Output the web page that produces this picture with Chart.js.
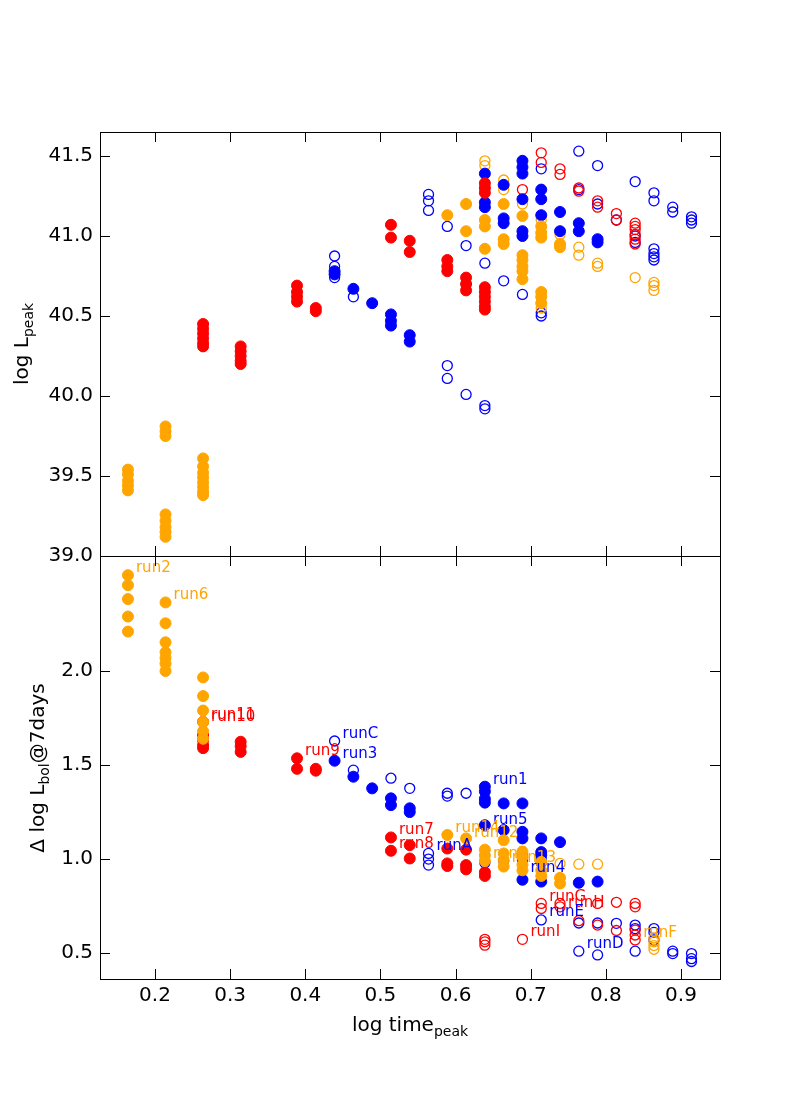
<!DOCTYPE html>
<html>
<head>
<meta charset="utf-8">
<script src="https://cdn.jsdelivr.net/npm/chart.js@4.4.1/dist/chart.umd.min.js"></script>
<style>
  body { margin: 0; background: #fff; }
  #wrap { position: relative; width: 800px; height: 1100px; }
  canvas { position: absolute; left: 0; top: 0; }
</style>
</head>
<body>
<div id="wrap">
  <canvas id="peakChart" width="800" height="1100"></canvas>
  <canvas id="dropChart" width="800" height="1100"></canvas>
</div>
<script>
const ORANGE = '#ffa500';
const RED = '#ff0000';
const BLUE = '#0000ff';
const FONT = "'DejaVu Sans', sans-serif";

// shared x axis
const xTicks = [0.2, 0.3, 0.4, 0.5, 0.6, 0.7, 0.8, 0.9];
const peakTicks = [39.0, 39.5, 40.0, 40.5, 41.0, 41.5];
const dropTicks = [0.5, 1.0, 1.5, 2.0];

// top panel: log L_peak  [log time_peak, value]
const peakOrangeFilled = [
  [0.164, 39.54], [0.164, 39.51], [0.164, 39.47], [0.164, 39.44], [0.164, 39.41],
  [0.214, 39.81], [0.214, 39.78], [0.214, 39.75], [0.214, 39.26], [0.214, 39.22],
  [0.214, 39.18], [0.214, 39.15], [0.214, 39.12],
  [0.264, 39.61], [0.264, 39.56], [0.264, 39.52], [0.264, 39.49], [0.264, 39.46],
  [0.264, 39.43], [0.264, 39.40], [0.264, 39.38],
  [0.589, 41.13], [0.614, 41.20], [0.614, 41.03],
  [0.639, 41.10], [0.639, 41.06], [0.639, 40.92],
  [0.664, 41.20], [0.664, 40.98], [0.664, 40.95],
  [0.689, 41.125], [0.689, 40.88], [0.689, 40.85], [0.689, 40.81], [0.689, 40.78], [0.689, 40.73],
  [0.714, 41.06], [0.714, 41.02], [0.714, 40.99], [0.714, 40.65], [0.714, 40.62], [0.714, 40.58],
  [0.739, 40.95], [0.739, 40.93]
];
const peakRedFilled = [
  [0.264, 40.45], [0.264, 40.42], [0.264, 40.39], [0.264, 40.36], [0.264, 40.33], [0.264, 40.31],
  [0.314, 40.31], [0.314, 40.28], [0.314, 40.25], [0.314, 40.22], [0.314, 40.20],
  [0.389, 40.69], [0.389, 40.65], [0.389, 40.62], [0.389, 40.59],
  [0.414, 40.55], [0.414, 40.53],
  [0.514, 41.07], [0.514, 40.99], [0.539, 40.97], [0.539, 40.90],
  [0.589, 40.85], [0.589, 40.81], [0.589, 40.78],
  [0.614, 40.74], [0.614, 40.70], [0.614, 40.66],
  [0.639, 41.33], [0.639, 41.30], [0.639, 41.27], [0.639, 40.68], [0.639, 40.65],
  [0.639, 40.62], [0.639, 40.59], [0.639, 40.56], [0.639, 40.54]
];
const peakBlueFilled = [
  [0.439, 40.78], [0.439, 40.76], [0.464, 40.67], [0.489, 40.58],
  [0.514, 40.51], [0.514, 40.47], [0.514, 40.44], [0.539, 40.38], [0.539, 40.34],
  [0.639, 41.39], [0.639, 41.21], [0.639, 41.18],
  [0.664, 41.32], [0.664, 41.11], [0.664, 41.08],
  [0.689, 41.47], [0.689, 41.43], [0.689, 41.39], [0.689, 41.23], [0.689, 41.03], [0.689, 41.00],
  [0.714, 41.29], [0.714, 41.23], [0.714, 41.13],
  [0.739, 41.15], [0.739, 41.03], [0.764, 41.08], [0.764, 41.03],
  [0.789, 40.98], [0.789, 40.96]
];
const peakOrangeOpen = [
  [0.639, 41.47], [0.639, 41.44], [0.664, 41.35], [0.664, 41.29], [0.689, 41.20],
  [0.714, 41.10], [0.714, 40.55], [0.739, 41.01], [0.764, 40.93], [0.764, 40.88],
  [0.789, 40.83], [0.789, 40.81], [0.839, 40.74],
  [0.864, 40.71], [0.864, 40.69], [0.864, 40.66]
];
const peakRedOpen = [
  [0.689, 41.29], [0.714, 41.52], [0.714, 41.46], [0.739, 41.42], [0.739, 41.385],
  [0.764, 41.30], [0.764, 41.28], [0.789, 41.22], [0.789, 41.18],
  [0.814, 41.14], [0.814, 41.10],
  [0.839, 41.08], [0.839, 41.06], [0.839, 41.04], [0.839, 41.01], [0.839, 40.98], [0.839, 40.95]
];
const peakBlueOpen = [
  [0.439, 40.875], [0.439, 40.81], [0.439, 40.74], [0.464, 40.62],
  [0.564, 41.26], [0.564, 41.22], [0.564, 41.16],
  [0.589, 41.06], [0.589, 40.19], [0.589, 40.11],
  [0.614, 40.94], [0.614, 40.01],
  [0.639, 40.83], [0.639, 39.94], [0.639, 39.92],
  [0.664, 40.72], [0.689, 40.635], [0.714, 41.42], [0.714, 40.52], [0.714, 40.50],
  [0.764, 41.53], [0.764, 41.29], [0.789, 41.44], [0.789, 41.20], [0.814, 41.10],
  [0.839, 41.34], [0.839, 41.00], [0.839, 40.96],
  [0.864, 41.27], [0.864, 41.22], [0.864, 40.92], [0.864, 40.89], [0.864, 40.87], [0.864, 40.85],
  [0.889, 41.18], [0.889, 41.15], [0.914, 41.12], [0.914, 41.10], [0.914, 41.08]
];

// bottom panel: delta log L_bol @ 7 days
const dropOrangeFilled = [
  [0.164, 2.51], [0.164, 2.457], [0.164, 2.383], [0.164, 2.29], [0.164, 2.21],
  [0.214, 2.365], [0.214, 2.254], [0.214, 2.153], [0.214, 2.10], [0.214, 2.07],
  [0.214, 2.04], [0.214, 2.00],
  [0.264, 1.966], [0.264, 1.867], [0.264, 1.79], [0.264, 1.73], [0.264, 1.68], [0.264, 1.64],
  [0.589, 1.128], [0.614, 1.11],
  [0.639, 1.05], [0.639, 1.02], [0.639, 0.99],
  [0.664, 1.10], [0.664, 1.03], [0.664, 0.995], [0.664, 0.96],
  [0.689, 1.04], [0.689, 1.01], [0.689, 0.97], [0.689, 0.94],
  [0.714, 0.985], [0.714, 0.94], [0.714, 0.91],
  [0.739, 0.90], [0.739, 0.87]
];
const dropRedFilled = [
  [0.264, 1.73], [0.264, 1.66], [0.264, 1.633], [0.264, 1.606], [0.264, 1.59],
  [0.314, 1.624], [0.314, 1.60], [0.314, 1.57],
  [0.389, 1.536], [0.389, 1.48], [0.414, 1.48], [0.414, 1.47],
  [0.514, 1.115], [0.514, 1.044], [0.539, 1.074], [0.539, 1.003],
  [0.589, 1.056], [0.589, 0.977], [0.589, 0.963],
  [0.614, 1.05], [0.614, 0.968], [0.614, 0.945],
  [0.639, 0.93], [0.639, 0.91]
];
const dropBlueFilled = [
  [0.439, 1.523], [0.464, 1.438], [0.489, 1.376],
  [0.514, 1.323], [0.514, 1.287], [0.539, 1.27], [0.539, 1.25],
  [0.639, 1.385], [0.639, 1.36], [0.639, 1.32], [0.639, 1.30], [0.639, 1.18],
  [0.664, 1.296], [0.664, 1.154],
  [0.689, 1.296], [0.689, 1.145], [0.689, 1.11], [0.689, 0.89],
  [0.714, 1.11], [0.714, 1.037], [0.714, 1.02], [0.714, 0.88],
  [0.739, 1.09], [0.764, 0.874], [0.789, 0.88]
];
const dropOrangeOpen = [
  [0.739, 0.977], [0.764, 0.973], [0.789, 0.973],
  [0.864, 0.58], [0.864, 0.56], [0.864, 0.54], [0.864, 0.52]
];
const dropRedOpen = [
  [0.639, 0.573], [0.639, 0.56], [0.639, 0.542], [0.689, 0.573],
  [0.714, 0.764], [0.714, 0.737], [0.739, 0.764], [0.739, 0.746],
  [0.764, 0.672], [0.789, 0.764], [0.789, 0.649], [0.814, 0.77], [0.814, 0.62],
  [0.839, 0.764], [0.839, 0.746], [0.839, 0.622], [0.839, 0.596], [0.839, 0.57]
];
const dropBlueOpen = [
  [0.439, 1.628], [0.464, 1.473], [0.514, 1.43], [0.539, 1.376],
  [0.564, 1.03], [0.564, 1.0], [0.564, 0.968],
  [0.589, 1.35], [0.589, 1.335], [0.589, 0.968], [0.614, 1.35], [0.614, 0.96],
  [0.639, 0.98], [0.664, 0.99], [0.689, 1.02], [0.689, 0.995],
  [0.714, 1.0], [0.714, 0.98], [0.714, 0.676],
  [0.764, 0.66], [0.764, 0.51], [0.789, 0.66], [0.789, 0.49], [0.814, 0.658],
  [0.839, 0.649], [0.839, 0.63], [0.839, 0.51],
  [0.864, 0.63], [0.864, 0.61], [0.864, 0.57],
  [0.889, 0.51], [0.889, 0.497], [0.914, 0.497], [0.914, 0.47], [0.914, 0.455]
];

// run names, placed next to a point of the bottom panel
const runNames  = ['run2', 'run6', 'run11', 'run10', 'run9', 'runC', 'run3', 'run1', 'run5', 'run14',
                   'run12', 'run7', 'run8', 'runA', 'runB', 'run13', 'run4', 'runG', 'runH', 'runE',
                   'runI', 'runD', 'runF'];
const runColors = [ORANGE, ORANGE, RED, RED, RED, BLUE, BLUE, BLUE, BLUE, ORANGE,
                   ORANGE, RED, RED, BLUE, ORANGE, ORANGE, BLUE, RED, RED, BLUE,
                   RED, BLUE, ORANGE];
const runX = [0.164, 0.214, 0.264, 0.264, 0.389, 0.439, 0.439, 0.639, 0.639, 0.589,
              0.614, 0.514, 0.514, 0.564, 0.639, 0.664, 0.689, 0.714, 0.739, 0.714,
              0.689, 0.764, 0.839];
const runY = [2.51, 2.365, 1.727, 1.72, 1.536, 1.628, 1.523, 1.385, 1.17, 1.128,
              1.10, 1.115, 1.044, 1.03, 0.99, 0.97, 0.915, 0.76, 0.73, 0.68,
              0.574, 0.51, 0.57];

const TICK = 10;

const framePlugin = {
  id: 'frame',
  afterDraw(chart) {
    const { ctx, chartArea: a, scales } = chart;
    ctx.save();
    ctx.strokeStyle = '#000';
    ctx.lineWidth = 1;
    ctx.strokeRect(a.left + 0.5, a.top + 0.5, a.right - a.left, a.bottom - a.top);
    ctx.beginPath();
    xTicks.forEach(v => {
      const px = Math.round(scales.x.getPixelForValue(v)) + 0.5;
      ctx.moveTo(px, a.top); ctx.lineTo(px, a.top + TICK);
      ctx.moveTo(px, a.bottom); ctx.lineTo(px, a.bottom - TICK);
    });
    chart.options.plugins.frame.yTicks.forEach(v => {
      const py = Math.round(scales.y.getPixelForValue(v)) + 0.5;
      ctx.moveTo(a.left, py); ctx.lineTo(a.left + TICK, py);
      ctx.moveTo(a.right, py); ctx.lineTo(a.right - TICK, py);
    });
    ctx.stroke();
    ctx.restore();
  }
};

const runLabelPlugin = {
  id: 'runLabels',
  afterDatasetsDraw(chart, args, opts) {
    if (!opts.show) return;
    const { ctx, scales } = chart;
    ctx.save();
    ctx.font = '15px ' + FONT;
    ctx.textAlign = 'left';
    ctx.textBaseline = 'middle';
    runNames.forEach((name, i) => {
      ctx.fillStyle = runColors[i];
      ctx.fillText(name, scales.x.getPixelForValue(runX[i]) + 8, scales.y.getPixelForValue(runY[i]) - 7);
    });
    ctx.restore();
  }
};

// text with subscripts; (cx, base) = centre of the run along the text, baseline position
function drawRich(ctx, segs, cx, base, rotate) {
  ctx.save();
  if (rotate) {
    ctx.translate(base, cx);
    ctx.rotate(-Math.PI / 2);
  } else {
    ctx.translate(cx, base);
  }
  ctx.fillStyle = '#000';
  ctx.textBaseline = 'alphabetic';
  ctx.textAlign = 'left';
  let w = 0;
  const widths = segs.map(s => {
    ctx.font = (s.sub ? '14px ' : '20px ') + FONT;
    const m = ctx.measureText(s.t).width;
    w += m;
    return m;
  });
  let x = -w / 2;
  segs.forEach((s, i) => {
    ctx.font = (s.sub ? '14px ' : '20px ') + FONT;
    ctx.fillText(s.t, x, s.sub ? 5 : 0);
    x += widths[i];
  });
  ctx.restore();
}

const titlePlugin = {
  id: 'titles',
  afterDraw(chart, args, opts) {
    const ctx = chart.ctx;
    if (opts.y) drawRich(ctx, opts.y.segs, opts.y.center, opts.y.base, true);
    if (opts.x) drawRich(ctx, opts.x.segs, opts.x.center, opts.x.base, false);
  }
};

function series(pts, color, filled) {
  return {
    data: pts.map(p => ({ x: p[0], y: p[1] })),
    pointRadius: filled ? 5.5 : 5,
    pointHoverRadius: filled ? 5.5 : 5,
    borderWidth: filled ? 1 : 1.3,
    borderColor: color,
    backgroundColor: filled ? color : 'rgba(0,0,0,0)',
    showLine: false
  };
}

function makeChart(id, cfg) {
  const tickFont = { family: FONT, size: 20 };
  return new Chart(document.getElementById(id), {
    type: 'scatter',
    data: { datasets: cfg.datasets },
    options: {
      responsive: false,
      animation: false,
      devicePixelRatio: 1,
      events: [],
      layout: { padding: cfg.padding },
      plugins: {
        legend: { display: false },
        tooltip: { enabled: false },
        frame: { yTicks: cfg.yTicks },
        runLabels: { show: cfg.labels },
        titles: cfg.titles
      },
      scales: {
        x: {
          type: 'linear',
          min: 0.1268,
          max: 0.9519,
          display: cfg.showX,
          grid: { display: false, drawTicks: false },
          border: { display: false },
          ticks: { font: tickFont, color: '#000', padding: 5, maxRotation: 0, autoSkip: false,
                   callback: v => v.toFixed(1) },
          afterBuildTicks: s => { s.ticks = xTicks.map(v => ({ value: v })); },
          afterFit: s => { s.height = cfg.showX ? 60 : 0; }
        },
        y: {
          type: 'linear',
          min: cfg.yMin,
          max: cfg.yMax,
          grid: { display: false, drawTicks: false },
          border: { display: false },
          ticks: { font: tickFont, color: '#000', padding: 7, autoSkip: false,
                   callback: v => v.toFixed(1) },
          afterBuildTicks: s => { s.ticks = cfg.yTicks.map(v => ({ value: v })); },
          afterFit: s => { s.width = 100; }
        }
      }
    },
    plugins: [framePlugin, runLabelPlugin, titlePlugin]
  });
}

makeChart('peakChart', {
  datasets: [
    series(peakOrangeFilled, ORANGE, true),
    series(peakRedFilled, RED, true),
    series(peakBlueFilled, BLUE, true),
    series(peakOrangeOpen, ORANGE, false),
    series(peakRedOpen, RED, false),
    series(peakBlueOpen, BLUE, false)
  ],
  padding: { top: 132, left: 0, right: 80, bottom: 544 },
  showX: false,
  yMin: 39.0,
  yMax: 41.65,
  yTicks: peakTicks,
  labels: false,
  titles: {
    y: { segs: [{ t: 'log L' }, { t: 'peak', sub: true }], center: 344, base: 28 }
  }
});

makeChart('dropChart', {
  datasets: [
    series(dropOrangeFilled, ORANGE, true),
    series(dropRedFilled, RED, true),
    series(dropBlueFilled, BLUE, true),
    series(dropOrangeOpen, ORANGE, false),
    series(dropRedOpen, RED, false),
    series(dropBlueOpen, BLUE, false)
  ],
  padding: { top: 556, left: 0, right: 80, bottom: 61 },
  showX: true,
  yMin: 0.362,
  yMax: 2.612,
  yTicks: dropTicks,
  labels: true,
  titles: {
    y: { segs: [{ t: '\u0394 log L' }, { t: 'bol', sub: true }, { t: '@7days' }], center: 768, base: 44 },
    x: { segs: [{ t: 'log time' }, { t: 'peak', sub: true }], center: 410, base: 1031 }
  }
});
</script>
</body>
</html>
